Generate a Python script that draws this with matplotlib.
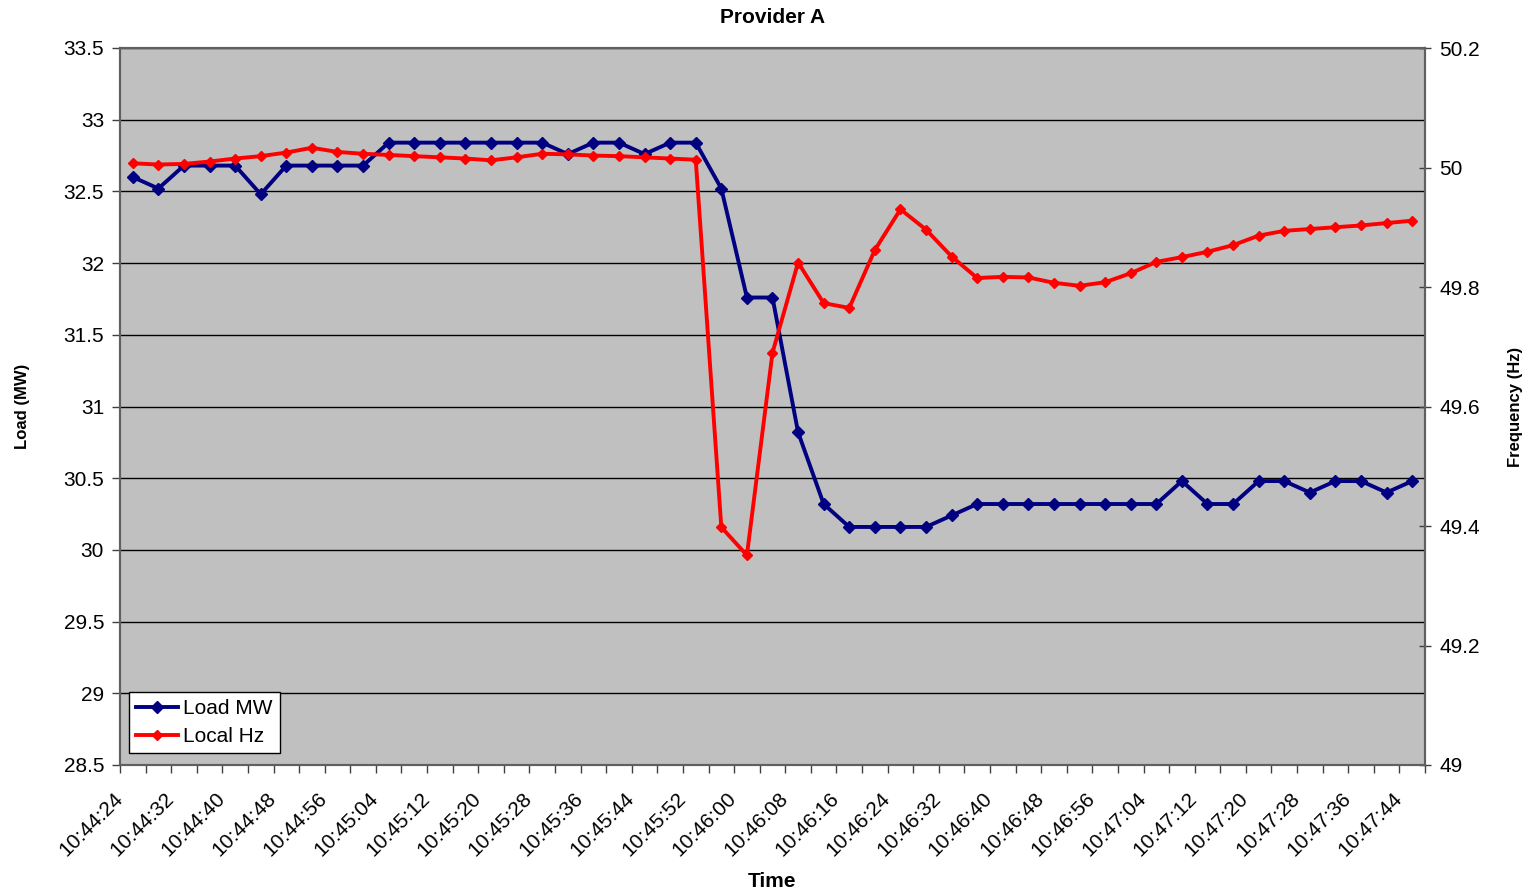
import numpy as np
import matplotlib
matplotlib.use("Agg")
import matplotlib.pyplot as plt
from matplotlib.ticker import MultipleLocator, FixedLocator, FuncFormatter
from matplotlib.transforms import ScaledTranslation

plt.rcParams['font.family'] = ['Liberation Sans', 'DejaVu Sans']

# ---- data (4 s samples, 10:44:24 .. 10:47:44)
start = 10*3600 + 44*60 + 24
n_pts = 51
times = []
for i in range(n_pts):
    t = start + 4*i
    times.append("%d:%02d:%02d" % (t // 3600, (t % 3600) // 60, t % 60))

load_mw = [32.60, 32.52, 32.68, 32.68, 32.68, 32.48, 32.68, 32.68, 32.68, 32.68,
           32.84, 32.84, 32.84, 32.84, 32.84, 32.84, 32.84, 32.76, 32.84, 32.84,
           32.76, 32.84, 32.84, 32.52, 31.76, 31.76, 30.82, 30.32, 30.16, 30.16,
           30.16, 30.16, 30.24, 30.32, 30.32, 30.32, 30.32, 30.32, 30.32, 30.32,
           30.32, 30.48, 30.32, 30.32, 30.48, 30.48, 30.40, 30.48, 30.48, 30.40,
           30.48]

local_hz = [50.007, 50.005, 50.006, 50.010, 50.015, 50.019, 50.025, 50.033, 50.026, 50.023,
            50.021, 50.019, 50.017, 50.015, 50.012, 50.017, 50.023, 50.022, 50.020, 50.019,
            50.017, 50.015, 50.013, 49.398, 49.351, 49.690, 49.841, 49.773, 49.765, 49.862,
            49.930, 49.896, 49.851, 49.815, 49.817, 49.816, 49.807, 49.802, 49.808, 49.823,
            49.842, 49.850, 49.859, 49.870, 49.886, 49.894, 49.897, 49.900, 49.903, 49.907,
            49.911]

x = np.arange(n_pts)

fig = plt.figure(figsize=(15.32, 8.92), dpi=100)
ax = fig.add_axes([120/1532, 1-765/892, (1425-120)/1532, (765-48)/892])
ax2 = ax.twinx()

ax.set_facecolor('#C0C0C0')
ax2.patch.set_visible(False)

l1, = ax.plot(x, load_mw, color='#000080', lw=2.8, marker='D', ms=6.5, label='Load MW', zorder=3)
l2, = ax2.plot(x, local_hz, color='#FF0000', lw=2.8, marker='D', ms=5.5, label='Local Hz', zorder=3)

ax.set_xlim(-0.5, n_pts - 0.5)
ax.set_ylim(28.5, 33.5)
ax.yaxis.set_major_locator(MultipleLocator(0.5))
ax.yaxis.set_major_formatter(FuncFormatter(lambda v, p: '%g' % v))
ax2.set_ylim(49, 50.2)
ax2.yaxis.set_major_locator(MultipleLocator(0.2))
ax2.yaxis.set_major_formatter(FuncFormatter(lambda v, p: '%g' % round(v, 1)))

ax.grid(axis='y', color='black', lw=1)
ax.set_axisbelow(True)

ax.set_xticks(x[::2])
ax.set_xticklabels(times[::2], rotation=45, ha='right', rotation_mode='anchor', fontsize=15)
ax.xaxis.set_minor_locator(FixedLocator(np.arange(-0.5, n_pts, 1)))
ax.tick_params(axis='x', which='major', length=0, pad=17)
ax.tick_params(axis='x', which='minor', length=5.5, width=1, color='#404040')
ax.tick_params(axis='y', length=5.5, width=1, color='#404040', labelsize=15, pad=6)
ax2.tick_params(axis='y', length=9, width=1, color='#404040', labelsize=15, direction='inout', pad=6)
ax2.tick_params(axis='x', length=0)

for a in (ax, ax2):
    for s in a.spines.values():
        s.set_color('#606060')
        s.set_linewidth(1.5)

ax.set_title('Provider A', fontsize=15, fontweight='bold', pad=18)
ax.set_xlabel('Time', fontsize=15, fontweight='bold')
ax.xaxis.set_label_coords(0.5, -0.149)
ax.set_ylabel('Load (MW)', fontsize=12, fontweight='bold')
ax.yaxis.set_label_coords(-0.069, 0.5)
ax2.set_ylabel('Frequency (Hz)', fontsize=12, fontweight='bold')
ax2.yaxis.set_label_coords(1.0635, 0.5)

leg = ax2.legend(handles=[l1, l2], loc='lower left', bbox_to_anchor=(0.007, 0.0165),
                 fontsize=15, frameon=True, fancybox=False, framealpha=1,
                 edgecolor='black', handlelength=2.0, borderpad=0.35, labelspacing=0.42,
                 handletextpad=0.25, borderaxespad=0)
leg.get_frame().set_linewidth(1)

# shift the rotated time labels a bit left, like the original
fig.canvas.draw()
shift = ScaledTranslation(-0.20, 0, fig.dpi_scale_trans)
for tk in ax.xaxis.get_major_ticks():
    tk.label1.set_transform(tk.label1.get_transform() + shift)

fig.savefig('out.png', dpi=100)
